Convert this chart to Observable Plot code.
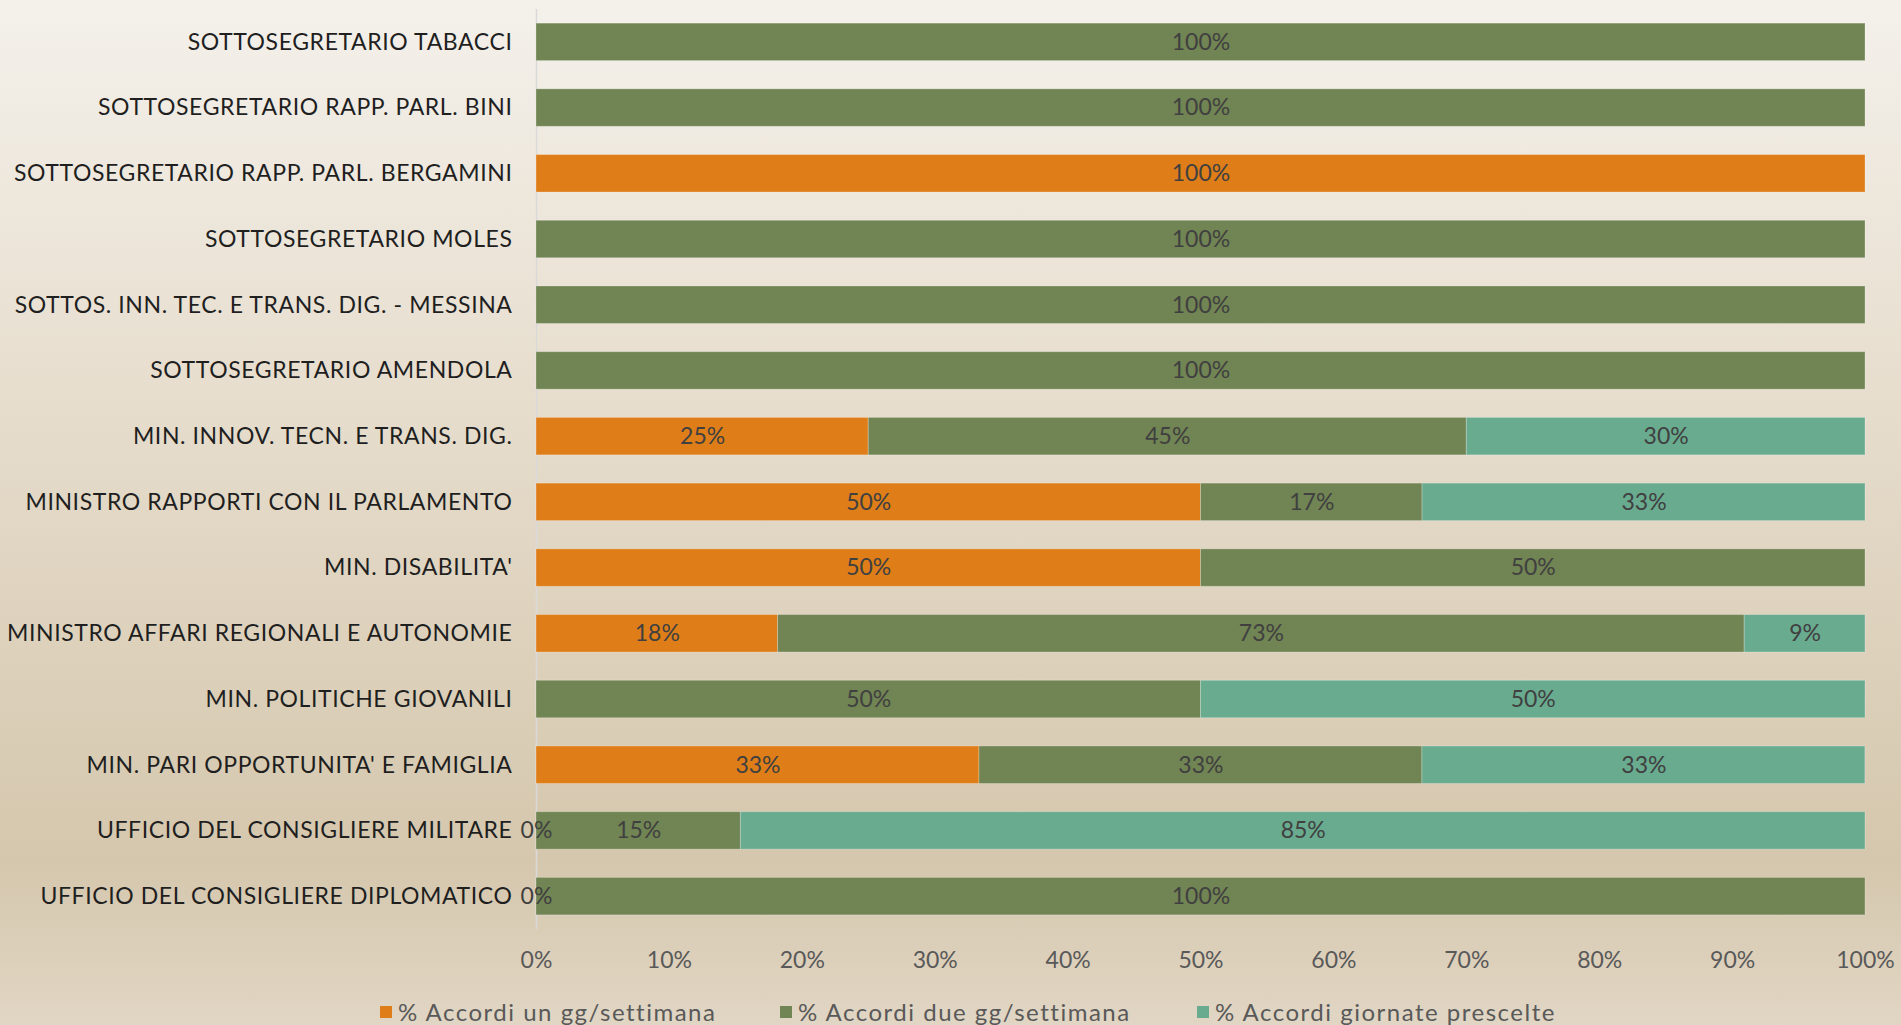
<!DOCTYPE html>
<html>
<head>
<meta charset="utf-8">
<script src="https://cdn.jsdelivr.net/npm/d3@7"></script>
<script src="https://cdn.jsdelivr.net/npm/@observablehq/plot@0.6"></script>
<style>
  html, body { margin: 0; padding: 0; }
  body {
    width: 1901px; height: 1025px; overflow: hidden; position: relative;
    background: linear-gradient(to bottom, #f4f1eb 0%, #e8dfd0 35%, #d5c7ad 84%, #e1d6c4 100%);
    font-family: "Lato", sans-serif;
  }
  #chart { position: absolute; left: 0; top: 0; }
  #legend { position: absolute; left: 0; top: 997px; width: 1901px; height: 28px; }
  .item {
    position: absolute; top: 0; display: flex; align-items: center; gap: 6px;
    font-size: 24px; letter-spacing: 1.5px; color: #595959; white-space: nowrap;
  }
  .sw { width: 12px; height: 12px; display: inline-block; }
  #chart svg g[aria-label="y-axis tick label"] text { letter-spacing: 0.6px; }
</style>
</head>
<body>
<div id="chart"></div>
<div id="legend"></div>
<script>
const categories = [
  "SOTTOSEGRETARIO TABACCI",
  "SOTTOSEGRETARIO RAPP. PARL. BINI",
  "SOTTOSEGRETARIO RAPP. PARL. BERGAMINI",
  "SOTTOSEGRETARIO MOLES",
  "SOTTOS. INN. TEC. E TRANS. DIG. - MESSINA",
  "SOTTOSEGRETARIO AMENDOLA",
  "MIN. INNOV. TECN. E TRANS. DIG.",
  "MINISTRO RAPPORTI CON IL PARLAMENTO",
  "MIN. DISABILITA'",
  "MINISTRO AFFARI REGIONALI E AUTONOMIE",
  "MIN. POLITICHE GIOVANILI",
  "MIN. PARI OPPORTUNITA' E FAMIGLIA",
  "UFFICIO DEL CONSIGLIERE MILITARE",
  "UFFICIO DEL CONSIGLIERE DIPLOMATICO"
];
const seriesNames = ["% Accordi un gg/settimana", "% Accordi due gg/settimana", "% Accordi giornate prescelte"];
const seriesColors = ["#df7e18", "#718453", "#69ab8f"];
const unGg      = [null, null, 100, null, null, null, 25, 50, 50, 18.18, null, 33.33, 0, 0];
const dueGg     = [100, 100, null, 100, 100, 100, 45, 16.67, 50, 72.73, 50, 33.33, 15.38, 100];
const prescelte = [null, null, null, null, null, null, 30, 33.33, null, 9.09, 50, 33.33, 84.62, null];
const xTicks = [0, 10, 20, 30, 40, 50, 60, 70, 80, 90, 100];
const legendLeft = [380, 780, 1197];

const seriesValues = [unGg, dueGg, prescelte];
const data = [];
categories.forEach((cat, i) => {
  seriesValues.forEach((vals, s) => {
    if (vals[i] !== null) data.push({cat, series: seriesNames[s], value: vals[i]});
  });
});

const chart = Plot.plot({
  width: 1901,
  height: 985,
  marginLeft: 536,
  marginRight: 36,
  marginTop: 9,
  marginBottom: 56,
  style: {background: "transparent", fontFamily: "Lato, sans-serif", fontSize: "23px"},
  x: {domain: [0, 100]},
  y: {domain: categories, paddingInner: 0.43, paddingOuter: 0.215, round: false},
  color: {domain: seriesNames, range: seriesColors},
  marks: [
    Plot.ruleX([0], {stroke: "#d9d9d9", strokeWidth: 1.5}),
    Plot.barX(data, Plot.stackX({x: "value", y: "cat", fill: "series", order: null,
      stroke: "#ffffff", strokeOpacity: 0.25, strokeWidth: 1})),
    Plot.text(data, Plot.stackX({x: "value", y: "cat", z: "series", order: null,
      text: d => Math.round(d.value) + "%", fill: "#404040", fontSize: 23})),
    Plot.axisY({tickSize: 0, tickPadding: 24, color: "#1f1f1f", label: null, fontSize: 23}),
    Plot.axisX(xTicks, {tickSize: 0, tickPadding: 22, color: "#595959", label: null, fontSize: 23,
      tickFormat: d => d + "%"})
  ]
});
document.getElementById("chart").appendChild(chart);

const legend = document.getElementById("legend");
seriesNames.forEach((name, i) => {
  const item = document.createElement("div");
  item.className = "item";
  item.style.left = legendLeft[i] + "px";
  const sw = document.createElement("span");
  sw.className = "sw";
  sw.style.background = seriesColors[i];
  const t = document.createElement("span");
  t.textContent = name;
  item.appendChild(sw);
  item.appendChild(t);
  legend.appendChild(item);
});
</script>
</body>
</html>
